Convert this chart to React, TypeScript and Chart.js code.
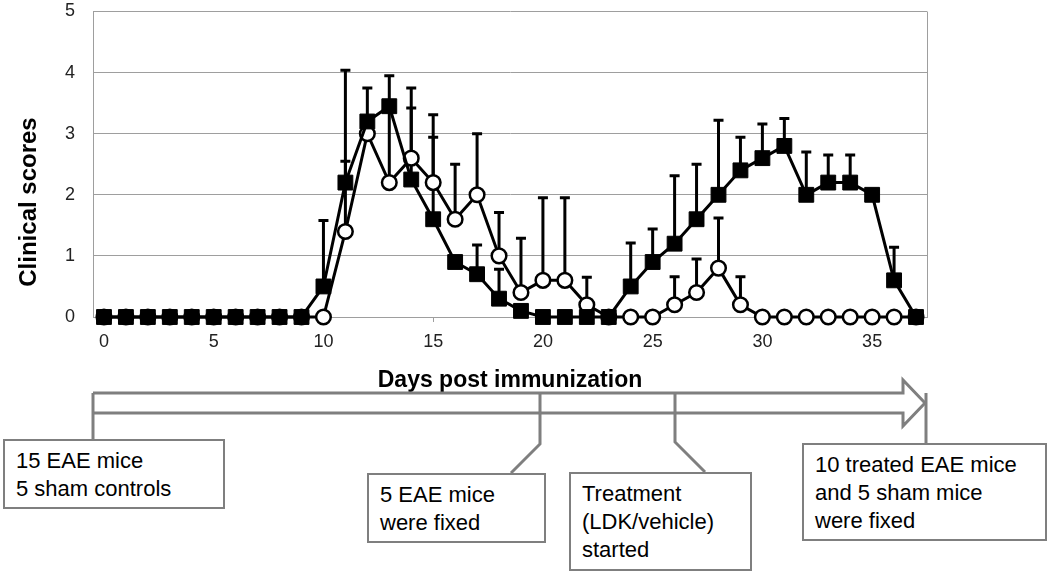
import React, { useEffect, useRef } from "react";
import { Chart, registerables } from "chart.js";

Chart.register(...registerables);

// ---- data ----
const days = [0, 1, 2, 3, 4, 5, 6, 7, 8, 9, 10, 11, 12, 13, 14, 15, 16, 17, 18, 19, 20, 21, 22, 23, 24, 25, 26, 27, 28, 29, 30, 31, 32, 33, 34, 35, 36, 37];

const squareScores = [0, 0, 0, 0, 0, 0, 0, 0, 0, 0, 0.5, 2.2, 3.2, 3.45, 2.25, 1.6, 0.9, 0.7, 0.3, 0.1, 0, 0, 0, 0, 0.5, 0.9, 1.2, 1.6, 2.0, 2.4, 2.6, 2.8, 2.0, 2.2, 2.2, 2.0, 0.6, 0];
const squareErrTop = [null, null, null, null, null, null, null, null, null, null, 1.58, 2.55, 3.75, null, 3.42, 2.94, null, 1.18, 0.78, null, null, null, null, null, 1.21, 1.44, 2.31, 2.5, 3.22, 2.94, 3.16, 3.25, 2.7, 2.65, 2.65, null, 1.14, null];

const circleScores = [0, 0, 0, 0, 0, 0, 0, 0, 0, 0, 0, 1.4, 3.0, 2.2, 2.6, 2.2, 1.6, 2.0, 1.0, 0.4, 0.6, 0.6, 0.2, 0, 0, 0, 0.2, 0.4, 0.8, 0.2, 0, 0, 0, 0, 0, 0, 0, 0];
const circleErrTop = [null, null, null, null, null, null, null, null, null, null, null, 4.04, null, 3.95, 3.75, 3.31, 2.5, 3.0, 1.71, 1.29, 1.95, 1.95, 0.65, null, null, null, 0.66, 0.95, 1.62, 0.66, null, null, null, null, null, null, null, null];

const xTickValues = [0, 5, 10, 15, 20, 25, 30, 35];
const yTitle = "Clinical scores";
const xTitle = "Days post immunization";

const timelineBoxes = [
  { lines: ["15 EAE mice", "5 sham controls"], left: 3, top: 439, width: 222, height: 70 },
  { lines: ["5 EAE mice", "were fixed"], left: 367, top: 473, width: 179, height: 70 },
  { lines: ["Treatment", "(LDK/vehicle)", "started"], left: 569, top: 472, width: 183, height: 99 },
  { lines: ["10 treated EAE mice", "and 5 sham mice", "were fixed"], left: 802, top: 443, width: 245, height: 98 },
];

const FONT = "Arial, 'Liberation Sans', sans-serif";
const GRID = "#9e9e9e";
const TL = "#7f7f7f";

const errorBarPlugin = {
  id: "errorBars",
  beforeDatasetsDraw(chart: any) {
    const { ctx, chartArea, scales } = chart;
    const xs = scales.x;
    const ys = scales.y;
    ctx.save();
    // right plot border
    ctx.strokeStyle = GRID;
    ctx.lineWidth = 1;
    ctx.beginPath();
    ctx.moveTo(Math.round(chartArea.right) + 0.5, chartArea.top);
    ctx.lineTo(Math.round(chartArea.right) + 0.5, chartArea.bottom);
    ctx.stroke();
    chart.data.datasets.forEach((ds: any, i: number) => {
      if (!chart.isDatasetVisible(i)) return;
      const tops = ds.errTop || [];
      ds.data.forEach((pt: any, j: number) => {
        const t = tops[j];
        if (t === null || t === undefined) return;
        const px = xs.getPixelForValue(pt.x);
        const py = ys.getPixelForValue(pt.y);
        const pt2 = ys.getPixelForValue(t);
        ctx.strokeStyle = "#000";
        ctx.lineWidth = 3;
        ctx.beginPath();
        ctx.moveTo(px, py);
        ctx.lineTo(px, pt2);
        ctx.moveTo(px - 5, pt2);
        ctx.lineTo(px + 5, pt2);
        ctx.stroke();
      });
    });
    ctx.restore();
  },
};

export default function App() {
  const canvasRef = useRef<HTMLCanvasElement | null>(null);

  useEffect(() => {
    if (!canvasRef.current) return;
    const chart = new Chart(canvasRef.current, {
      type: "line",
      data: {
        datasets: [
          {
            label: "Filled squares",
            data: days.map((d, i) => ({ x: d, y: squareScores[i] })),
            errTop: squareErrTop,
            borderColor: "#000",
            backgroundColor: "#000",
            borderWidth: 3,
            pointStyle: "rect",
            pointRadius: 10.5,
            pointHoverRadius: 10.5,
            pointBorderWidth: 1,
            pointBackgroundColor: "#000",
            pointBorderColor: "#000",
            tension: 0,
            clip: false,
          } as any,
          {
            label: "Open circles",
            data: days.map((d, i) => ({ x: d, y: circleScores[i] })),
            errTop: circleErrTop,
            borderColor: "#000",
            backgroundColor: "#fff",
            borderWidth: 3,
            pointStyle: "circle",
            pointRadius: 7.3,
            pointHoverRadius: 7.3,
            pointBorderWidth: 2.5,
            pointBackgroundColor: "#fff",
            pointBorderColor: "#000",
            tension: 0,
            clip: false,
          } as any,
        ],
      },
      options: {
        responsive: false,
        animation: false,
        layout: { padding: { top: 10, right: 123, bottom: 183, left: 0 } },
        plugins: {
          legend: { display: false },
          tooltip: { enabled: false },
        },
        scales: {
          x: {
            type: "linear",
            min: -0.5,
            max: 37.5,
            afterBuildTicks: (axis: any) => {
              axis.ticks = xTickValues.map((v) => ({ value: v }));
            },
            afterFit: (scale: any) => {
              scale.height = 77;
            },
            grid: {
              drawOnChartArea: false,
              drawTicks: true,
              tickLength: 5,
              color: GRID,
            },
            border: { display: true, color: GRID, width: 1 },
            ticks: {
              autoSkip: false,
              maxRotation: 0,
              padding: 9,
              color: "#222",
              font: { family: FONT, size: 18, lineHeight: 1.2 },
            },
            title: {
              display: true,
              text: xTitle,
              color: "#000",
              padding: { top: 0, bottom: 0 },
              font: { family: FONT, size: 23, weight: "bold", lineHeight: 1.2 },
            },
          },
          y: {
            min: 0,
            max: 5,
            afterFit: (scale: any) => {
              scale.width = 93;
            },
            grid: {
              drawTicks: true,
              tickLength: 18,
              tickColor: "rgba(0,0,0,0)",
              color: GRID,
              lineWidth: 1,
            },
            border: { display: true, color: GRID, width: 1 },
            ticks: {
              stepSize: 1,
              padding: 0,
              color: "#222",
              font: { family: FONT, size: 18, lineHeight: 1 },
            },
            title: { display: false },
          },
        },
      },
      plugins: [errorBarPlugin],
    } as any);
    return () => chart.destroy();
  }, []);

  return (
    <div style={{ position: "absolute", left: 0, top: 0, width: 1050, height: 577, background: "#fff", fontFamily: FONT }}>
      <canvas ref={canvasRef} width={1050} height={577} style={{ position: "absolute", left: 0, top: 0, width: 1050, height: 577 }} />
      <div
        style={{
          position: "absolute",
          left: 28,
          top: 202,
          transform: "translate(-50%, -50%) rotate(-90deg)",
          whiteSpace: "nowrap",
          fontWeight: "bold",
          fontSize: 24,
          color: "#000",
          lineHeight: "28px",
        }}
      >
        {yTitle}
      </div>
      <svg width={1050} height={577} style={{ position: "absolute", left: 0, top: 0, pointerEvents: "none" }}>
        <path d="M93,393 L903,393 L903,380 L925,403 L903,426 L903,413 L93,413" fill="none" stroke={TL} strokeWidth={3} strokeLinejoin="miter" />
        <path d="M93,393 L93,439" fill="none" stroke={TL} strokeWidth={3} />
        <path d="M540,393 L540,444 L511,473" fill="none" stroke={TL} strokeWidth={3} />
        <path d="M675,393 L675,442 L705,472" fill="none" stroke={TL} strokeWidth={3} />
        <path d="M926,393 L926,443" fill="none" stroke={TL} strokeWidth={3} />
      </svg>
      {timelineBoxes.map((b, i) => (
        <div
          key={i}
          style={{
            position: "absolute",
            left: b.left,
            top: b.top,
            width: b.width,
            height: b.height,
            boxSizing: "border-box",
            border: `2px solid ${TL}`,
            background: "#fff",
            padding: "6px 0 0 11px",
            fontSize: 22,
            lineHeight: "28px",
            color: "#000",
            whiteSpace: "nowrap",
          }}
        >
          {b.lines.map((l, k) => (
            <div key={k}>{l}</div>
          ))}
        </div>
      ))}
    </div>
  );
}
